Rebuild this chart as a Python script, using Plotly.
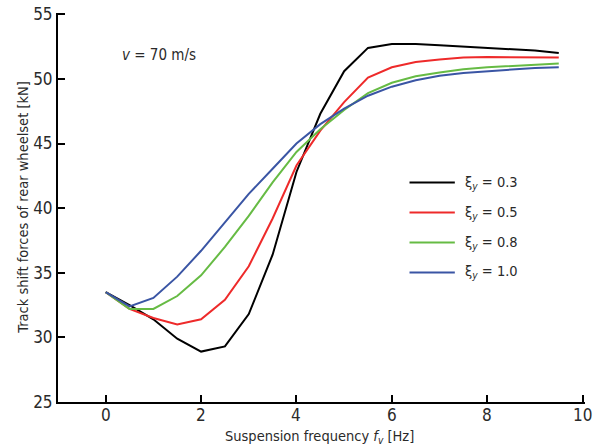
import plotly.graph_objects as go

freq = [0, 0.5, 1, 1.5, 2, 2.5, 3, 3.5, 4, 4.5, 5, 5.5, 6, 6.5, 7, 7.5, 8, 8.5, 9, 9.5]
xi03 = [33.5, 32.5, 31.4, 29.9, 28.9, 29.3, 31.8, 36.4, 42.8, 47.3, 50.6, 52.4, 52.7, 52.7, 52.6, 52.5, 52.4, 52.3, 52.2, 52.0]
xi05 = [33.5, 32.2, 31.5, 31.0, 31.4, 32.9, 35.5, 39.2, 43.3, 46.0, 48.2, 50.1, 50.9, 51.3, 51.5, 51.65, 51.7, 51.7, 51.7, 51.65]
xi08 = [33.5, 32.2, 32.2, 33.2, 34.8, 37.0, 39.4, 42.0, 44.35, 46.1, 47.6, 48.9, 49.7, 50.2, 50.5, 50.75, 50.9, 51.0, 51.1, 51.2]
xi10 = [33.5, 32.4, 33.05, 34.7, 36.7, 38.9, 41.1, 43.05, 45.0, 46.5, 47.7, 48.7, 49.4, 49.9, 50.25, 50.45, 50.6, 50.75, 50.85, 50.9]

series = [
    ("ξ<sub><i>y</i></sub> = 0.3", xi03, "#000000"),
    ("ξ<sub><i>y</i></sub> = 0.5", xi05, "#ee2a2a"),
    ("ξ<sub><i>y</i></sub> = 0.8", xi08, "#66bb44"),
    ("ξ<sub><i>y</i></sub> = 1.0", xi10, "#3a55a4"),
]

x_ticks = [0, 2, 4, 6, 8, 10]
y_ticks = [25, 30, 35, 40, 45, 50, 55]

FONT = "DejaVu Sans Condensed, Roboto, sans-serif"
TXT = "#2a2a2a"

fig = go.Figure()
for name, ys, col in series:
    fig.add_trace(go.Scatter(x=freq, y=ys, mode="lines", name=name,
                             line=dict(color=col, width=2), showlegend=False))

# manual legend (paper coords)
leg_rows = [0.564, 0.487, 0.410, 0.333]
for (name, ys, col), yy in zip(series, leg_rows):
    fig.add_shape(type="line", xref="paper", yref="paper",
                  x0=0.667, x1=0.753, y0=yy, y1=yy,
                  line=dict(color=col, width=2))
    fig.add_annotation(xref="paper", yref="paper", x=0.768, y=yy,
                       text=name, showarrow=False, xanchor="left", yanchor="middle",
                       font=dict(family=FONT, size=14.5, color=TXT))

fig.add_annotation(xref="paper", yref="paper", x=0.118, y=0.891,
                   text="<i>v</i> = 70 m/s", showarrow=False,
                   xanchor="left", yanchor="middle",
                   font=dict(family=FONT, size=15, color=TXT))

# x tick labels placed through the x scale (the built-in one at the axis end gets dropped)
for v in x_ticks:
    fig.add_annotation(xref="x", yref="paper", x=v, y=0, yshift=-13,
                       text=str(v), showarrow=False,
                       xanchor="center", yanchor="middle",
                       font=dict(family=FONT, size=17, color=TXT))

# axis titles
fig.add_annotation(xref="paper", yref="paper", x=0.497, y=-0.090,
                   text="Suspension frequency <i>f</i><sub><i>v</i></sub> [Hz]",
                   showarrow=False, xanchor="center", yanchor="middle",
                   font=dict(family=FONT, size=14.5, color=TXT))
fig.add_annotation(xref="paper", yref="paper", x=-0.068, y=0.5, textangle=-90,
                   text="Track shift forces of rear wheelset [kN]",
                   showarrow=False, xanchor="center", yanchor="middle",
                   font=dict(family=FONT, size=14.5, color=TXT))

fig.update_layout(
    width=595, height=447,
    margin=dict(l=58, r=9.6, t=12.7, b=45),
    paper_bgcolor="white", plot_bgcolor="white",
    font=dict(family=FONT, size=16, color=TXT),
    xaxis=dict(range=[-1, 10.05], tickvals=x_ticks, ticks="inside", ticklen=7,
               tickwidth=2, tickcolor="#000", showline=True, linecolor="#000",
               linewidth=2, showgrid=False, zeroline=False, automargin=False,
               showticklabels=False),
    yaxis=dict(range=[25, 55.1], tickvals=y_ticks, ticks="inside", ticklen=7,
               tickwidth=2, tickcolor="#000", showline=True, linecolor="#000",
               linewidth=2, showgrid=False, zeroline=False, automargin=False,
               ticklabeloverflow="allow", tickfont=dict(size=17)),
)

# remove the default 8px page margin so the figure sits at the window's top-left
fig.write_html("out.html", config={"displayModeBar": False},
               post_script="document.body.style.margin='0px';document.body.style.overflow='hidden';")
